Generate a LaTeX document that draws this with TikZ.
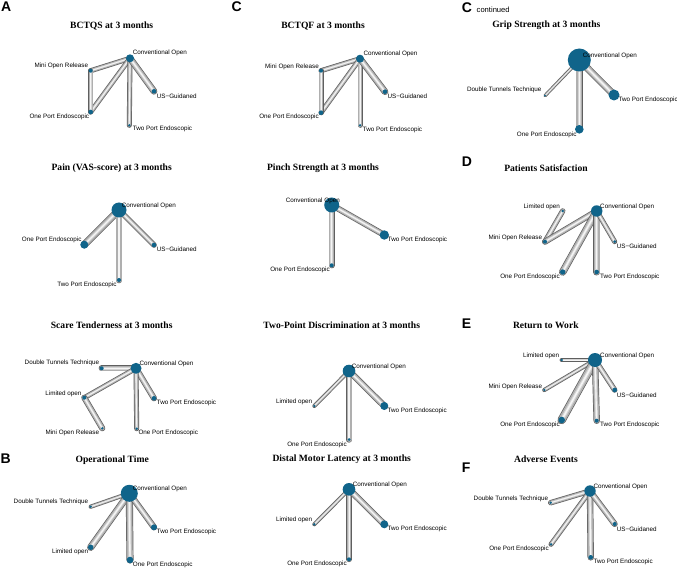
\documentclass[tikz,border=0pt]{standalone}
\usepackage{fontspec}
\setmainfont{Liberation Serif}
\setsansfont{Liberation Sans}
\definecolor{nodeblue}{RGB}{16,100,138}
\definecolor{edark}{RGB}{95,95,95}
\definecolor{emid}{RGB}{175,175,175}
\definecolor{emid2}{RGB}{212,212,212}
\definecolor{elight}{RGB}{245,245,245}
\pgfdeclarelayer{background}
\pgfsetlayers{background,main}
\tikzset{
  nd/.style={circle, fill=nodeblue, inner sep=0pt, minimum size=#1pt},
  lbl/.style={font=\sffamily\fontsize{6.3}{7}\selectfont, inner sep=0pt},
  lw/.style={lbl, anchor=west},
  le/.style={lbl, anchor=east},
  ttl/.style={font=\bfseries\fontsize{9.6}{11}\selectfont, inner sep=0pt},
  letter/.style={font=\sffamily\bfseries\fontsize{14}{16}\selectfont, inner sep=0pt, anchor=base west},
}
\newcommand\netedge[3]{%
  \begin{pgfonlayer}{background}
  \draw[line cap=round, line width=#3pt+2.6pt, edark] (#1.center) -- (#2.center);
  \draw[line cap=round, line width=#3pt+1.2pt, emid] (#1.center) -- (#2.center);
  \draw[line cap=round, line width=#3pt*0.6+0.4pt, emid2] (#1.center) -- (#2.center);
  \draw[line cap=round, line width=#3pt*0.25+0.2pt, elight] (#1.center) -- (#2.center);
  \end{pgfonlayer}}
\begin{document}
\begin{tikzpicture}[x=1pt,y=-1pt]
\useasboundingbox (0,0) rectangle (677,569);
\begin{pgfonlayer}{background}
\fill[white] (0,0) rectangle (677,569);
\end{pgfonlayer}

% ---------- panel letters ----------
\node[letter] (LA) at (1,12) {A};
\node[letter] (LC) at (231.5,12) {C};
\node[letter] (LC2) at (461.7,12.5) {C};
\node[lbl, font=\sffamily\fontsize{7.6}{8}\selectfont, anchor=base west] (LC2t) at (476.5,12.5) {continued};
\node[letter] (LD) at (461.7,167) {D};
\node[letter] (LB) at (0.5,463) {B};
\node[letter] (LE) at (461.7,328) {E};
\node[letter] (LF) at (461.7,472) {F};

% ---------- BCTQS ----------
\node[ttl] (tA) at (111.7,26) {BCTQS at 3 months};
\node[nd=8] (aC) at (130,58.3) {};
\node[nd=4] (aM) at (90.7,70.7) {};
\node[nd=4.6] (aO) at (90.7,112) {};
\node[nd=4.6] (aU) at (154,91.3) {};
\node[nd=2.6] (aT) at (129.3,125.3) {};
\netedge{aC}{aM}{2.4}\netedge{aC}{aO}{2.4}\netedge{aM}{aO}{2.4}\netedge{aC}{aT}{2.4}\netedge{aC}{aU}{4}
\node[lw] at (132.7,53.3) {Conventional Open};
\node[le] at (88.3,66.3) {Mini Open Release};
\node[le] at (89.3,117) {One Port Endoscopic};
\node[lw] at (156.7,96.7) {US−Guidaned};
\node[lw] at (132.7,129.3) {Two Port Endoscopic};

% ---------- BCTQF ----------
\node[ttl] (tC) at (323,26) {BCTQF at 3 months};
\node[nd=8] (cC) at (360,58.7) {};
\node[nd=4] (cM) at (321,70.7) {};
\node[nd=4.6] (cO) at (321,112.7) {};
\node[nd=4.6] (cU) at (385,91.7) {};
\node[nd=2.6] (cT) at (360,125.3) {};
\netedge{cC}{cM}{2.4}\netedge{cC}{cO}{2.4}\netedge{cM}{cO}{2.4}\netedge{cC}{cT}{2.4}\netedge{cC}{cU}{4}
\node[lw] at (363.3,54) {Conventional Open};
\node[le] at (319,66.7) {Mini Open Release};
\node[le] at (319,117.3) {One Port Endoscopic};
\node[lw] at (387.3,96.7) {US−Guidaned};
\node[lw] at (362.7,129.7) {Two Port Endoscopic};

% ---------- Grip ----------
\node[ttl] (tG) at (546.3,25.7) {Grip Strength at 3 months};
\node[nd=23] (gC) at (579.3,60) {};
\node[nd=2] (gD) at (545,95.7) {};
\node[nd=11] (gT) at (614,95) {};
\node[nd=8.6] (gO) at (579.3,129.3) {};
\netedge{gC}{gD}{0.8}\netedge{gC}{gT}{4.5}\netedge{gC}{gO}{4.5}
\node[lw] at (582.7,56) {Conventional Open};
\node[le] at (541.7,90.3) {Double Tunnels Technique};
\node[lw] at (618.3,100) {Two Port Endoscopic};
\node[lbl] at (546.7,135) {One Port Endoscopic};

% ---------- Pain ----------
\node[ttl] (tP) at (111.7,168.3) {Pain (VAS-score) at 3 months};
\node[nd=15] (pC) at (119,210) {};
\node[nd=8] (pO) at (84.3,244.7) {};
\node[nd=4.6] (pU) at (154,245) {};
\node[nd=4] (pT) at (119,280) {};
\netedge{pC}{pO}{4.5}\netedge{pC}{pT}{4}\netedge{pC}{pU}{3}
\node[lw] at (121.7,205.7) {Conventional Open};
\node[le] at (81.7,240) {One Port Endoscopic};
\node[lw] at (156.7,249.3) {US−Guidaned};
\node[le] at (116.7,285) {Two Port Endoscopic};

% ---------- Scare ----------
\node[ttl] (tS) at (111.7,325) {Scare Tenderness at 3 months};
\node[nd=11] (sC) at (136,368.3) {};
\node[nd=4] (sD) at (101.7,368.3) {};
\node[nd=4] (sL) at (84.3,397.7) {};
\node[nd=2.6] (sM) at (102.3,428.3) {};
\node[nd=4.6] (sT) at (154,398.3) {};
\node[nd=2.6] (sO) at (136.7,428.7) {};
\netedge{sC}{sD}{3.4}\netedge{sC}{sL}{2.4}\netedge{sL}{sM}{3.4}\netedge{sC}{sT}{3.4}\netedge{sC}{sO}{2.4}
\node[le] at (99.3,363.3) {Double Tunnels Technique};
\node[lw] at (139.3,363.7) {Conventional Open};
\node[le] at (81.7,393.7) {Limited open};
\node[lw] at (156.7,403.3) {Two Port Endoscopic};
\node[le] at (99.3,433.3) {Mini Open Release};
\node[lw] at (138.3,433.3) {One Port Endoscopic};

% ---------- Operational time ----------
\node[ttl] (tB) at (112.2,460) {Operational Time};
\node[nd=17] (bC) at (129.3,493.3) {};
\node[nd=2.6] (bD) at (90.7,506.7) {};
\node[nd=6] (bT) at (154,527.3) {};
\node[nd=5.4] (bL) at (90.7,547.3) {};
\node[nd=6.6] (bO) at (130,560) {};
\netedge{bC}{bD}{1.6}\netedge{bC}{bL}{4.5}\netedge{bC}{bO}{4.5}\netedge{bC}{bT}{3.6}
\node[lw] at (132.7,489.3) {Conventional Open};
\node[le] at (88.3,501.7) {Double Tunnels Technique};
\node[lw] at (156.7,531.7) {Two Port Endoscopic};
\node[le] at (88.3,552.3) {Limited open};
\node[lw] at (132.7,565) {One Port Endoscopic};

% ---------- Pinch ----------
\node[ttl] (tPi) at (323,168.3) {Pinch Strength at 3 months};
\node[nd=15] (iC) at (331.7,205) {};
\node[nd=9.4] (iT) at (384.3,235) {};
\node[nd=4] (iO) at (331.7,265.3) {};
\netedge{iC}{iT}{3.4}\netedge{iC}{iO}{3.4}
\node[le] at (340,200.7) {Conventional Open};
\node[lw] at (387.7,240) {Two Port Endoscopic};
\node[le] at (330,270) {One Port Endoscopic};

% ---------- Two-point ----------
\node[ttl] (tTw) at (341.7,325) {Two-Point Discrimination at 3 months};
\node[nd=12.6] (wC) at (349,371) {};
\node[nd=2.6] (wL) at (314.3,406) {};
\node[nd=8] (wT) at (384.3,406) {};
\node[nd=3] (wO) at (349,439.5) {};
\netedge{wC}{wL}{1.4}\netedge{wC}{wO}{3.8}\netedge{wC}{wT}{3.8}
\node[lw] at (351.7,366.7) {Conventional Open};
\node[le] at (312.3,401.7) {Limited open};
\node[lw] at (387.3,410.7) {Two Port Endoscopic};
\node[le] at (347,445) {One Port Endoscopic};

% ---------- Distal motor latency ----------
\node[ttl] (tDm) at (341.7,459.3) {Distal Motor Latency at 3 months};
\node[nd=12.6] (mC) at (349,489.3) {};
\node[nd=2.6] (mL) at (314.3,524.3) {};
\node[nd=8] (mT) at (384.3,524.3) {};
\node[nd=4] (mO) at (349,559.3) {};
\netedge{mC}{mL}{1.4}\netedge{mC}{mO}{3}\netedge{mC}{mT}{3.8}
\node[lw] at (352.7,485.3) {Conventional Open};
\node[le] at (312.3,520) {Limited open};
\node[lw] at (387.3,529.3) {Two Port Endoscopic};
\node[le] at (347,564.3) {One Port Endoscopic};

% ---------- Patients satisfaction ----------
\node[ttl] (tD) at (546,168.3) {Patients Satisfaction};
\node[nd=11.4] (dC) at (596.7,211) {};
\node[nd=2.6] (dL) at (562.7,211) {};
\node[nd=4] (dM) at (545,241.7) {};
\node[nd=3] (dU) at (614.7,241.7) {};
\node[nd=5.4] (dO) at (562.7,272) {};
\node[nd=4.6] (dT) at (596.7,272) {};
\netedge{dL}{dM}{2.8}\netedge{dM}{dC}{3.4}\netedge{dC}{dO}{4.8}\netedge{dC}{dT}{4.4}\netedge{dC}{dU}{2.4}
\node[lw] at (600,207.3) {Conventional Open};
\node[le] at (560,207.3) {Limited open};
\node[le] at (542.3,237.7) {Mini Open Release};
\node[lw] at (616.7,246.7) {US−Guidaned};
\node[le] at (560,276.7) {One Port Endoscopic};
\node[lw] at (600,276.7) {Two Port Endoscopic};

% ---------- Return to work ----------
\node[ttl] (tE) at (545.8,325) {Return to Work};
\node[nd=14] (eC) at (595,360) {};
\node[nd=2.6] (eL) at (561.7,360) {};
\node[nd=2.6] (eM) at (544.3,390) {};
\node[nd=4.6] (eU) at (614.7,390) {};
\node[nd=6.6] (eO) at (561.7,420) {};
\node[nd=4] (eT) at (596.7,420.7) {};
\netedge{eC}{eL}{1.6}\netedge{eC}{eM}{1.6}\netedge{eC}{eO}{5.8}\netedge{eC}{eT}{3.8}\netedge{eC}{eU}{2.8}
\node[lw] at (600,356) {Conventional Open};
\node[le] at (559.3,356) {Limited open};
\node[le] at (542.3,386.7) {Mini Open Release};
\node[lw] at (616.7,395.3) {US−Guidaned};
\node[le] at (560,425.3) {One Port Endoscopic};
\node[lw] at (600,425.3) {Two Port Endoscopic};

% ---------- Adverse events ----------
\node[ttl] (tF) at (546,459.3) {Adverse Events};
\node[nd=11.4] (fC) at (590,491) {};
\node[nd=2.6] (fD) at (550.7,502.7) {};
\node[nd=4] (fU) at (614.7,524) {};
\node[nd=2.6] (fO) at (551,544.3) {};
\node[nd=4.6] (fT) at (590.7,557.3) {};
\netedge{fC}{fD}{2.8}\netedge{fC}{fO}{2.4}\netedge{fC}{fT}{3.8}\netedge{fC}{fU}{3.4}
\node[lw] at (593.3,486.7) {Conventional Open};
\node[le] at (548.3,499) {Double Tunnels Technique};
\node[lw] at (616.7,529) {US−Guidaned};
\node[le] at (549,549) {One Port Endoscopic};
\node[lw] at (593.3,562.3) {Two Port Endoscopic};
\end{tikzpicture}
\end{document}
